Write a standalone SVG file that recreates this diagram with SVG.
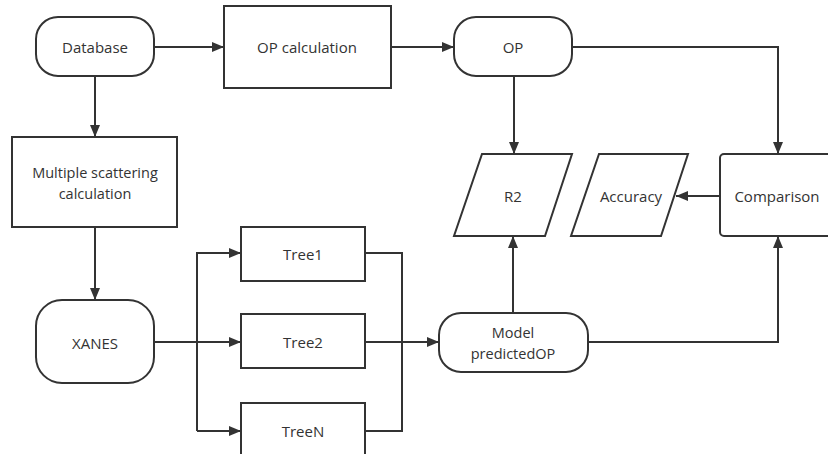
<svg xmlns="http://www.w3.org/2000/svg" width="828" height="454" viewBox="0 0 828 454">
<defs>
<marker id="ah" markerWidth="12" markerHeight="10" refX="12" refY="5" orient="auto" markerUnits="userSpaceOnUse">
<path d="M0,0 L12,5 L0,10 Z" fill="#333"/>
</marker>
<style>
.n{fill:#fff;stroke:#333;stroke-width:2}
.c{fill:none;stroke:#333;stroke-width:2}
.t{font-family:"Open Sans","Noto Sans",sans-serif;font-size:15px;fill:#333;text-anchor:middle;dominant-baseline:central}
.s{font-size:14.5px}
</style>
</defs>
<rect width="828" height="454" fill="#fff"/>
<g id="connectors">
<path class="c" d="M154,47 H224" marker-end="url(#ah)"/>
<path class="c" d="M391,47 H454" marker-end="url(#ah)"/>
<path class="c" d="M95,76 V137" marker-end="url(#ah)"/>
<path class="c" d="M514,76 V154" marker-end="url(#ah)"/>
<path class="c" d="M572,47 H778 V154" marker-end="url(#ah)"/>
<path class="c" d="M720,196 H676" marker-end="url(#ah)"/>
<path class="c" d="M95,227 V300" marker-end="url(#ah)"/>
<path class="c" d="M154,342 H241" marker-end="url(#ah)"/>
<path class="c" d="M197,431 V253 H241" marker-end="url(#ah)"/>
<path class="c" d="M197,431 H241" marker-end="url(#ah)"/>
<path class="c" d="M365,253 H402 V431 H365"/>
<path class="c" d="M365,342 H439" marker-end="url(#ah)"/>
<path class="c" d="M513,313 V236" marker-end="url(#ah)"/>
<path class="c" d="M588,342 H778 V236" marker-end="url(#ah)"/>
</g>
<g id="database"><rect class="n" x="36" y="17" width="118" height="59" rx="22"/><text class="t" x="95" y="47">Database</text></g>
<g id="opcalc"><rect class="n" x="224" y="6" width="167" height="82"/><text class="t" x="307" y="47">OP calculation</text></g>
<g id="op"><rect class="n" x="454" y="17" width="118" height="59" rx="22"/><text class="t" x="513" y="47">OP</text></g>
<g id="multiple"><rect class="n" x="12" y="137" width="165" height="90"/><text class="t s" x="95" y="172">Multiple scattering</text><text class="t s" x="95" y="193">calculation</text></g>
<g id="r2"><path class="n" d="M482,154 H572 L545,236 H454 Z"/><text class="t" x="513" y="196">R2</text></g>
<g id="accuracy"><path class="n" d="M599,154 H688 L661,236 H571 Z"/><text class="t" x="631" y="196">Accuracy</text></g>
<g id="comparison"><rect class="n" x="720" y="154" width="120" height="82" rx="4"/><text class="t" x="777" y="196">Comparison</text></g>
<g id="xanes"><rect class="n" x="36" y="300" width="118" height="83" rx="26"/><text class="t" x="95" y="343">XANES</text></g>
<g id="tree1"><rect class="n" x="241" y="227" width="124" height="54"/><text class="t" x="303" y="254">Tree1</text></g>
<g id="tree2"><rect class="n" x="241" y="314" width="124" height="54"/><text class="t" x="303" y="342">Tree2</text></g>
<g id="treen"><rect class="n" x="241" y="403" width="124" height="54"/><text class="t" x="303" y="431">TreeN</text></g>
<g id="model"><rect class="n" x="439" y="313" width="149" height="59" rx="22"/><text class="t s" x="513" y="332">Model</text><text class="t s" x="513" y="353">predictedOP</text></g>
</svg>
